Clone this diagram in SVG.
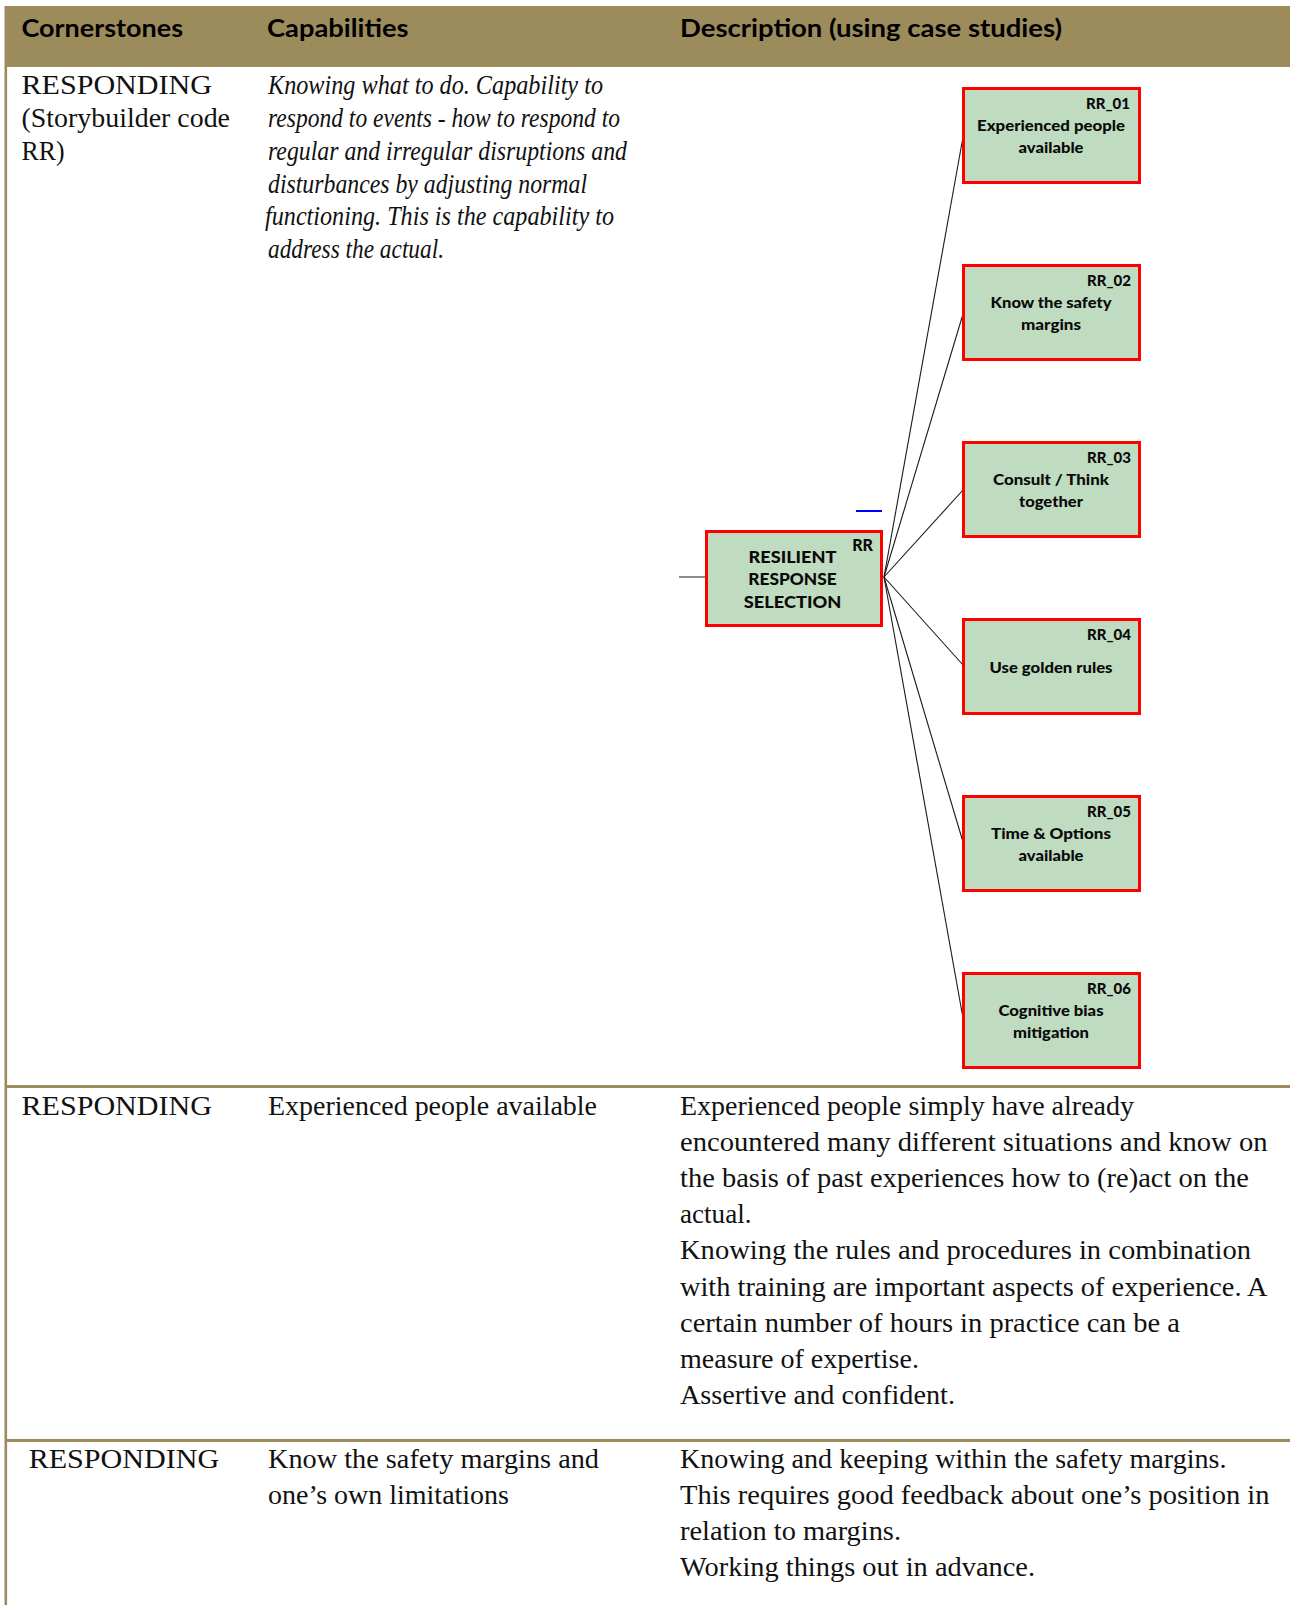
<svg xmlns="http://www.w3.org/2000/svg" width="1290" height="1605" viewBox="0 0 1290 1605">
  <style>
    .hdr { font-family: Lato, "Open Sans", "Liberation Sans", sans-serif; font-weight: 700; font-size: 24px; fill: #000; }
    .body { font-family: "Liberation Serif", "DejaVu Serif", serif; font-size: 27.5px; fill: #111; }
    .it { font-style: italic; font-size: 27px; }
    .rule { fill: #9C8C5C; }
    .node rect { fill: #C0DCC0; stroke: #FF0000; stroke-width: 3; }
    .node text { font-family: Lato, "Open Sans", "Liberation Sans", sans-serif; font-weight: 900; font-size: 15px; fill: #0A0A0A; }
    .node .code { text-anchor: end; }
    .node .lbl { text-anchor: middle; }
    .main text { font-size: 16px; }
    .link { stroke: #1A1A1A; stroke-width: 1.1; fill: none; }
  </style>

  <rect width="1290" height="1605" fill="#FFFFFF"/>

  <!-- table frame: header band, left border, row rules -->
  <g id="table">
    <rect class="rule" x="5" y="6" width="1285" height="61"/>
    <rect class="rule" x="4.5" y="6" width="2.6" height="1599"/>
    <rect class="rule" x="5" y="1085" width="1285" height="3"/>
    <rect class="rule" x="5" y="1439" width="1285" height="3"/>
  </g>

  <!-- header -->
  <g id="header">
    <text class="hdr" x="21.5" y="37" textLength="161.5" lengthAdjust="spacingAndGlyphs">Cornerstones</text>
    <text class="hdr" x="267" y="37" textLength="141.5" lengthAdjust="spacingAndGlyphs">Capabilities</text>
    <text class="hdr" x="680" y="37" textLength="382" lengthAdjust="spacingAndGlyphs">Description (using case studies)</text>
  </g>

  <!-- row 1 -->
  <g id="row1">
    <text class="body" x="21.5" y="94" textLength="190.5" lengthAdjust="spacingAndGlyphs">RESPONDING</text>
    <text class="body" x="21.5" y="127" textLength="208.5" lengthAdjust="spacingAndGlyphs">(Storybuilder code</text>
    <text class="body" x="21.5" y="160" textLength="43" lengthAdjust="spacingAndGlyphs">RR)</text>
    <text class="body it" x="268" y="94" textLength="335" lengthAdjust="spacingAndGlyphs">Knowing what to do. Capability to</text>
    <text class="body it" x="268" y="127" textLength="352" lengthAdjust="spacingAndGlyphs">respond to events - how to respond to</text>
    <text class="body it" x="268" y="160" textLength="359" lengthAdjust="spacingAndGlyphs">regular and irregular disruptions and</text>
    <text class="body it" x="268" y="192.5" textLength="319" lengthAdjust="spacingAndGlyphs">disturbances by adjusting normal</text>
    <text class="body it" x="265" y="225" textLength="349" lengthAdjust="spacingAndGlyphs">functioning. This is the capability to</text>
    <text class="body it" x="268" y="258" textLength="176" lengthAdjust="spacingAndGlyphs">address the actual.</text>
  </g>

  <!-- connectors -->
  <g id="connectors">
    <line x1="679" y1="577" x2="705" y2="577" stroke="#666" stroke-width="1.5"/>
    <line x1="856" y1="511" x2="882" y2="511" stroke="#0000FF" stroke-width="2"/>
    <line class="link" x1="884" y1="577" x2="963" y2="137"/>
    <line class="link" x1="884" y1="577" x2="963" y2="314"/>
    <line class="link" x1="884" y1="577" x2="963" y2="490"/>
    <line class="link" x1="884" y1="577" x2="963" y2="665"/>
    <line class="link" x1="884" y1="577" x2="963" y2="842"/>
    <line class="link" x1="884" y1="577" x2="963" y2="1018"/>
  </g>

  <!-- nodes -->
  <g id="RR" class="node main">
    <rect x="706.5" y="531.5" width="175" height="94"/>
    <text class="code" x="873" y="551">RR</text>
    <text class="lbl" x="792.5" y="562.5" textLength="88" lengthAdjust="spacingAndGlyphs">RESILIENT</text>
    <text class="lbl" x="792.5" y="585" textLength="88.5" lengthAdjust="spacingAndGlyphs">RESPONSE</text>
    <text class="lbl" x="792.5" y="607.5" textLength="97.5" lengthAdjust="spacingAndGlyphs">SELECTION</text>
  </g>

  <g id="RR_01" class="node">
    <rect x="963.5" y="88.5" width="176" height="94"/>
    <text class="code" x="1130" y="108.5">RR_01</text>
    <text class="lbl" x="1051" y="130.5" textLength="148" lengthAdjust="spacingAndGlyphs">Experienced people</text>
    <text class="lbl" x="1051" y="152.5" textLength="65" lengthAdjust="spacingAndGlyphs">available</text>
  </g>

  <g id="RR_02" class="node">
    <rect x="963.5" y="265.5" width="176" height="94"/>
    <text class="code" x="1131" y="285.5">RR_02</text>
    <text class="lbl" x="1051" y="307.5" textLength="121" lengthAdjust="spacingAndGlyphs">Know the safety</text>
    <text class="lbl" x="1051" y="329.5" textLength="60" lengthAdjust="spacingAndGlyphs">margins</text>
  </g>

  <g id="RR_03" class="node">
    <rect x="963.5" y="442.5" width="176" height="94"/>
    <text class="code" x="1131" y="462.5">RR_03</text>
    <text class="lbl" x="1051" y="484.5" textLength="116" lengthAdjust="spacingAndGlyphs">Consult / Think</text>
    <text class="lbl" x="1051" y="506.5" textLength="64" lengthAdjust="spacingAndGlyphs">together</text>
  </g>

  <g id="RR_04" class="node">
    <rect x="963.5" y="619.5" width="176" height="94"/>
    <text class="code" x="1131" y="639.5">RR_04</text>
    <text class="lbl" x="1051" y="672.5" textLength="123" lengthAdjust="spacingAndGlyphs">Use golden rules</text>
  </g>

  <g id="RR_05" class="node">
    <rect x="963.5" y="796.5" width="176" height="94"/>
    <text class="code" x="1131" y="816.5">RR_05</text>
    <text class="lbl" x="1051" y="838.5" textLength="120" lengthAdjust="spacingAndGlyphs">Time &amp; Options</text>
    <text class="lbl" x="1051" y="860.5" textLength="65" lengthAdjust="spacingAndGlyphs">available</text>
  </g>

  <g id="RR_06" class="node">
    <rect x="963.5" y="973.5" width="176" height="94"/>
    <text class="code" x="1131" y="993.5">RR_06</text>
    <text class="lbl" x="1051" y="1015.5" textLength="105" lengthAdjust="spacingAndGlyphs">Cognitive bias</text>
    <text class="lbl" x="1051" y="1037.5" textLength="76" lengthAdjust="spacingAndGlyphs">mitigation</text>
  </g>

  <!-- row 2 -->
  <g id="row2">
    <text class="body" x="21.5" y="1115" textLength="190.5" lengthAdjust="spacingAndGlyphs">RESPONDING</text>
    <text class="body" x="268" y="1115" textLength="329" lengthAdjust="spacingAndGlyphs">Experienced people available</text>
    <text class="body" x="680" y="1115" textLength="454" lengthAdjust="spacingAndGlyphs">Experienced people simply have already</text>
    <text class="body" x="680" y="1151" textLength="587.5" lengthAdjust="spacingAndGlyphs">encountered many different situations and know on</text>
    <text class="body" x="680" y="1187" textLength="569" lengthAdjust="spacingAndGlyphs">the basis of past experiences how to (re)act on the</text>
    <text class="body" x="680" y="1223" textLength="71.5" lengthAdjust="spacingAndGlyphs">actual.</text>
    <text class="body" x="680" y="1259" textLength="571" lengthAdjust="spacingAndGlyphs">Knowing the rules and procedures in combination</text>
    <text class="body" x="680" y="1295.5" textLength="587.5" lengthAdjust="spacingAndGlyphs">with training are important aspects of experience. A</text>
    <text class="body" x="680" y="1331.5" textLength="500" lengthAdjust="spacingAndGlyphs">certain number of hours in practice can be a</text>
    <text class="body" x="680" y="1367.5" textLength="239" lengthAdjust="spacingAndGlyphs">measure of expertise.</text>
    <text class="body" x="680" y="1403.5" textLength="275" lengthAdjust="spacingAndGlyphs">Assertive and confident.</text>
  </g>

  <!-- row 3 -->
  <g id="row3">
    <text class="body" x="28.7" y="1468" textLength="190.5" lengthAdjust="spacingAndGlyphs">RESPONDING</text>
    <text class="body" x="268" y="1468" textLength="331" lengthAdjust="spacingAndGlyphs">Know the safety margins and</text>
    <text class="body" x="268" y="1504" textLength="241" lengthAdjust="spacingAndGlyphs">one’s own limitations</text>
    <text class="body" x="680" y="1468" textLength="546.5" lengthAdjust="spacingAndGlyphs">Knowing and keeping within the safety margins.</text>
    <text class="body" x="680" y="1504" textLength="589.5" lengthAdjust="spacingAndGlyphs">This requires good feedback about one’s position in</text>
    <text class="body" x="680" y="1540" textLength="221" lengthAdjust="spacingAndGlyphs">relation to margins.</text>
    <text class="body" x="680" y="1576" textLength="355" lengthAdjust="spacingAndGlyphs">Working things out in advance.</text>
  </g>
</svg>
